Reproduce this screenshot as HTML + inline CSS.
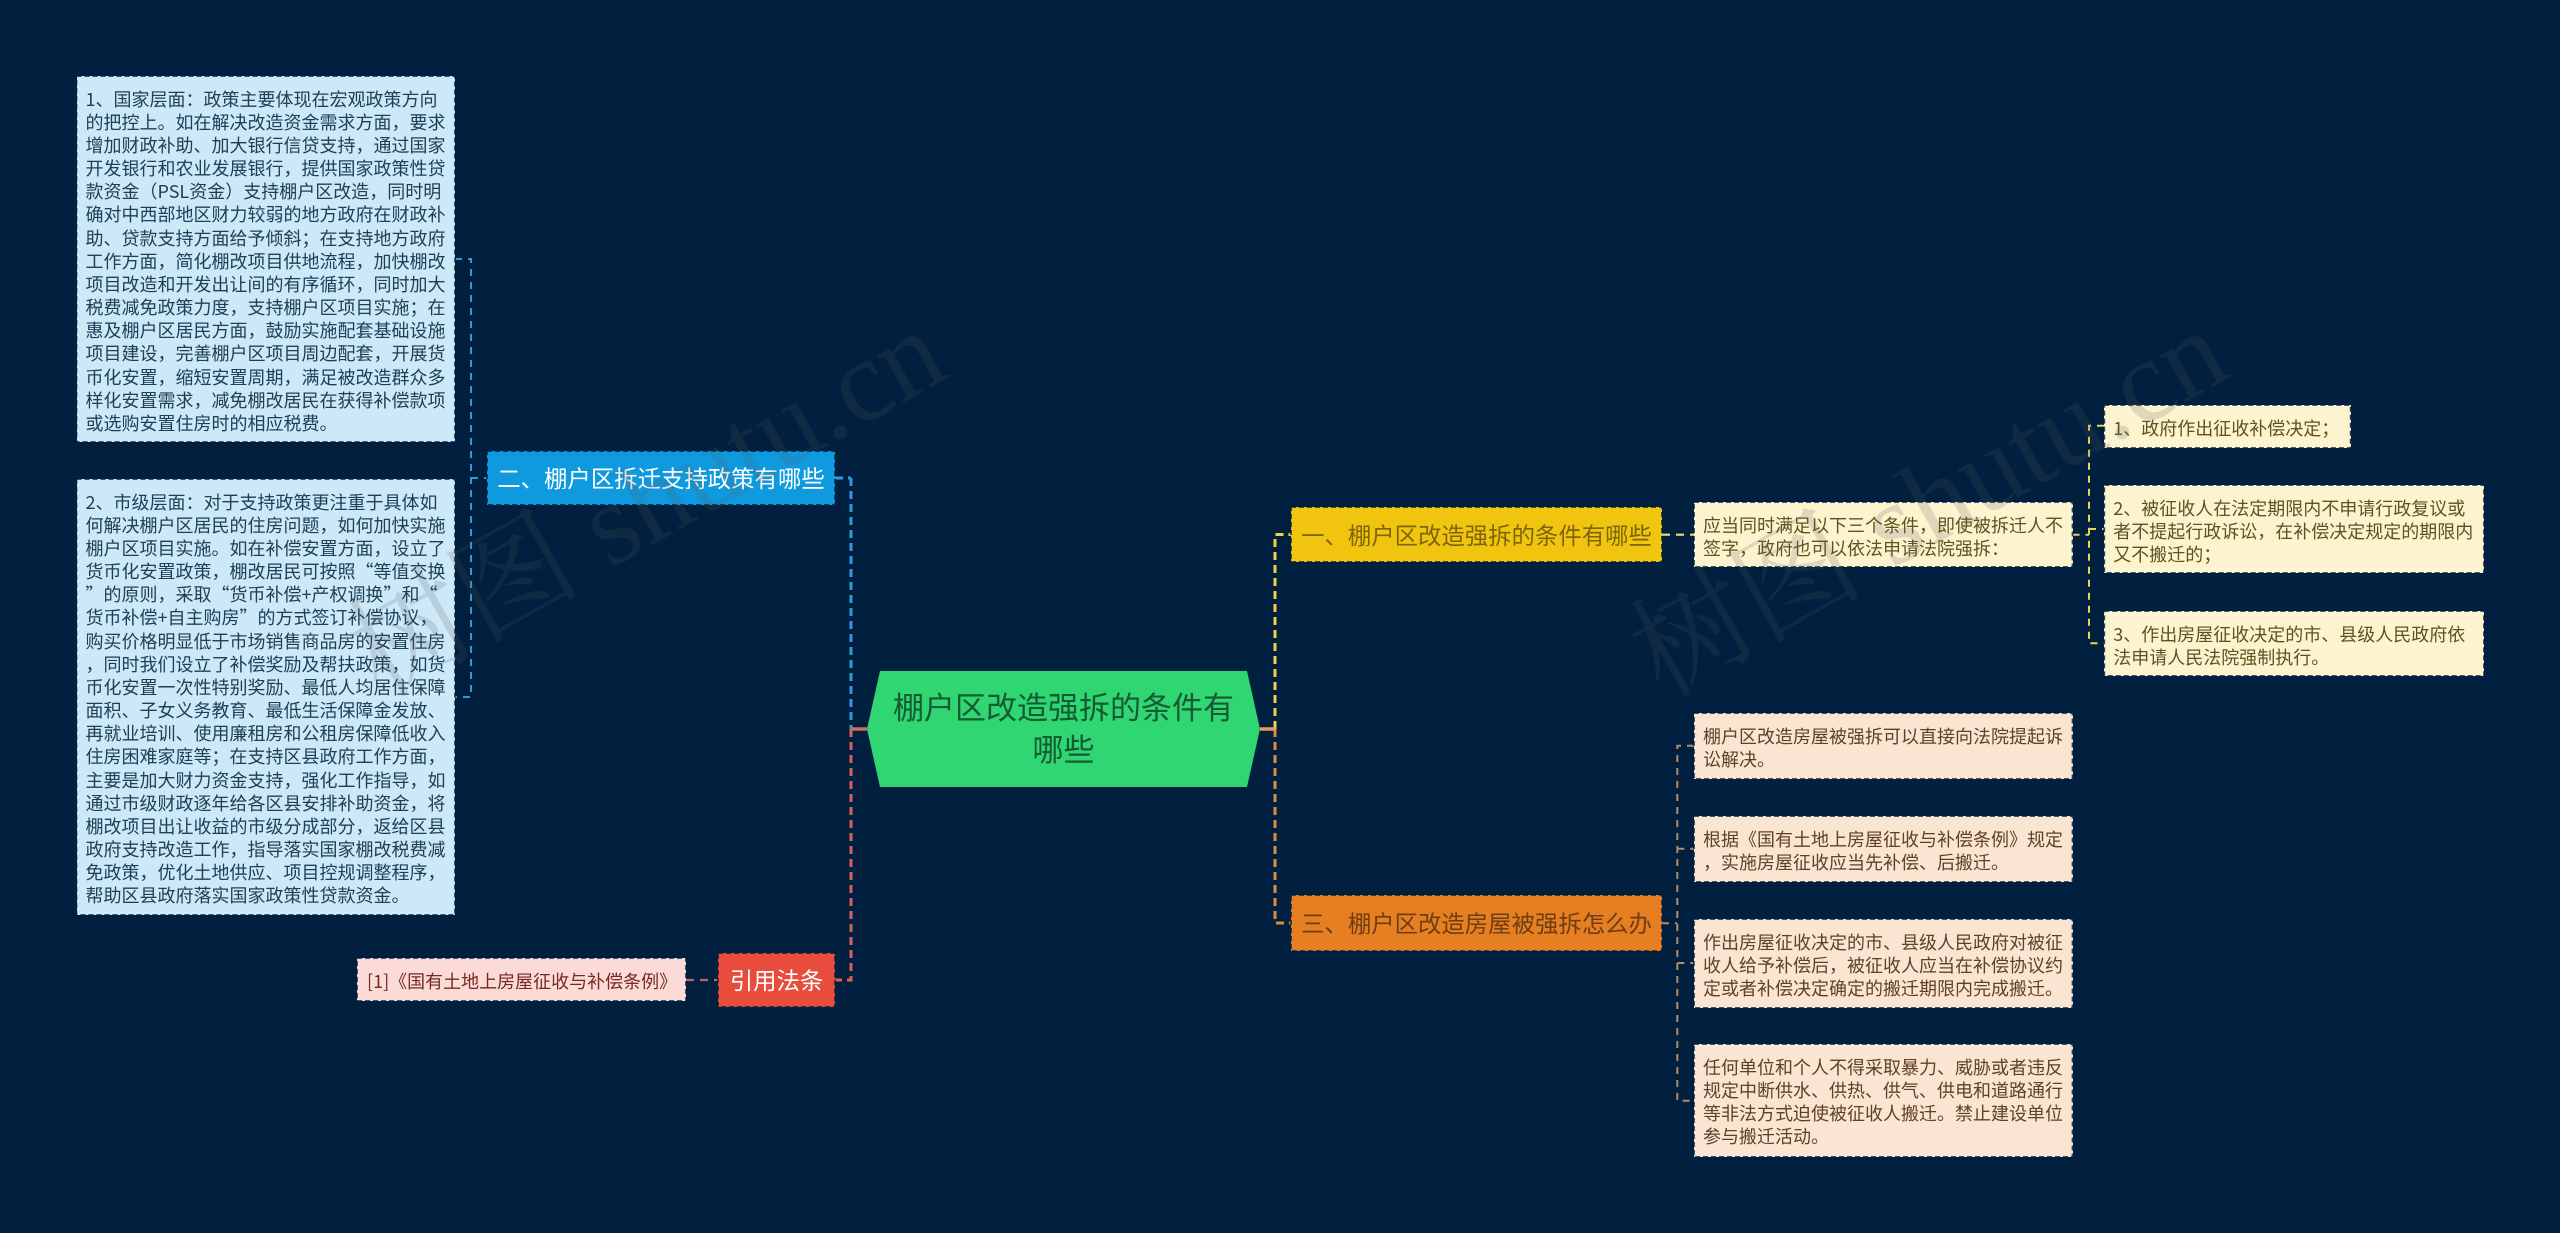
<!DOCTYPE html>
<html lang="zh-CN"><head><meta charset="utf-8"><title>棚户区改造强拆的条件有哪些</title>
<style>
html,body{margin:0;padding:0;background:#012040;}
#s{position:relative;width:2560px;height:1233px;overflow:hidden;background:#012040;font-family:"Noto Sans CJK SC","Liberation Sans",sans-serif;text-spacing-trim:space-all;}
#s svg{position:absolute;left:0;top:0;}
.b{position:absolute;box-sizing:border-box;white-space:nowrap;font-size:18px;line-height:23.17px;}
.l{padding:11.5px 0 0 9px;}
.y{background:#fcf3cf;color:#5e5320;}
.o{background:#fae5d3;color:#5f4126;}
.c{background:#cde9f8;color:#1c4058;}
.r{background:#fadbd8;color:#78281f;}
.n{font-size:23.4px;display:flex;align-items:center;justify-content:center;}
.hex{position:absolute;left:867px;top:671px;width:393px;height:116px;background:#2fd672;clip-path:polygon(13px 0,380px 0,393px 58px,380px 116px,13px 116px,0 58px);color:#145a32;font-size:31px;line-height:41.7px;text-align:center;white-space:nowrap;padding-top:14px;box-sizing:border-box;}
</style></head><body><div id="s">
<svg width="2560" height="1233" fill="none">
<path d="M851 478V729" stroke="#2f9ad8" stroke-width="3" stroke-dasharray="8 5"/>
<path d="M835 478H851" stroke="#2f9ad8" stroke-width="3" stroke-dasharray="8 5"/>
<path d="M851 729V980H835" stroke="#d9605a" stroke-width="3" stroke-dasharray="8 5"/>
<path d="M1275 729V534.5H1291" stroke="#f1d04a" stroke-width="3" stroke-dasharray="8 5"/>
<path d="M1275 729V923H1291" stroke="#e08a3c" stroke-width="3" stroke-dasharray="8 5"/>
<path d="M851 729H867" stroke="#cf6a60" stroke-width="3.5"/>
<path d="M1260 729H1275" stroke="#e59a62" stroke-width="3.5"/>
<path d="M455 259H471V697H455M471 478H487" stroke="#2f9ad8" stroke-width="2" stroke-dasharray="7 6"/>
<path d="M686 980H718" stroke="#c0655f" stroke-width="2.2" stroke-dasharray="8 6"/>
<path d="M1662 534.7H1694" stroke="#f0dd80" stroke-width="2.2" stroke-dasharray="8 6"/>
<path d="M2072.5 534.7H2089M2104 425.7H2089V643.3H2104M2089 529H2104" stroke="#ecd35a" stroke-width="2" stroke-dasharray="7 6"/>
<path d="M1662 923.3H1677.3M1694 745.7H1677.3V1100.7H1694M1677.3 848.7H1694M1677.3 963H1694" stroke="#b88a64" stroke-width="2" stroke-dasharray="7 6"/>
</svg>

<div class="hex">棚户区改造强拆的条件有<br>哪些</div>

<div class="b n" style="left:487px;top:451px;width:348px;height:54px;background:#0f9ae0;color:#fff;">二、棚户区拆迁支持政策有哪些</div>
<div class="b n" style="left:1291px;top:507px;width:371px;height:55px;background:#f1c40f;color:#7d6608;">一、棚户区改造强拆的条件有哪些</div>
<div class="b n" style="left:1291px;top:895px;width:371px;height:56px;background:#e67e22;color:#6e3d12;">三、棚户区改造房屋被强拆怎么办</div>
<div class="b n" style="left:718px;top:953px;width:117px;height:54px;background:#e74c3c;color:#fff;">引用法条</div>

<div class="b l c" style="left:76.5px;top:76px;width:378.5px;height:366px;">1、国家层面：政策主要体现在宏观政策方向<br>的把控上。如在解决改造资金需求方面，要求<br>增加财政补助、加大银行信贷支持，通过国家<br>开发银行和农业发展银行，提供国家政策性贷<br>款资金（PSL资金）支持棚户区改造，同时明<br>确对中西部地区财力较弱的地方政府在财政补<br>助、贷款支持方面给予倾斜；在支持地方政府<br>工作方面，简化棚改项目供地流程，加快棚改<br>项目改造和开发出让间的有序循环，同时加大<br>税费减免政策力度，支持棚户区项目实施；在<br>惠及棚户区居民方面，鼓励实施配套基础设施<br>项目建设，完善棚户区项目周边配套，开展货<br>币化安置，缩短安置周期，满足被改造群众多<br>样化安置需求，减免棚改居民在获得补偿款项<br>或选购安置住房时的相应税费。</div>

<div class="b l c" style="left:76.5px;top:479px;width:378.5px;height:436px;">2、市级层面：对于支持政策更注重于具体如<br>何解决棚户区居民的住房问题，如何加快实施<br>棚户区项目实施。如在补偿安置方面，设立了<br>货币化安置政策，棚改居民可按照“等值交换<br>”的原则，采取“货币补偿+产权调换”和“<br>货币补偿+自主购房”的方式签订补偿协议，<br>购买价格明显低于市场销售商品房的安置住房<br>，同时我们设立了补偿奖励及帮扶政策，如货<br>币化安置一次性特别奖励、最低人均居住保障<br>面积、子女义务教育、最低生活保障金发放、<br>再就业培训、使用廉租房和公租房保障低收入<br>住房困难家庭等；在支持区县政府工作方面，<br>主要是加大财力资金支持，强化工作指导，如<br>通过市级财政逐年给各区县安排补助资金，将<br>棚改项目出让收益的市级分成部分，返给区县<br>政府支持改造工作，指导落实国家棚改税费减<br>免政策，优化土地供应、项目控规调整程序，<br>帮助区县政府落实国家政策性贷款资金。</div>

<div class="b l r" style="left:357px;top:958px;width:329px;height:43px;padding-left:10px;">[1]《国有土地上房屋征收与补偿条例》</div>

<div class="b l y" style="left:1694px;top:502px;width:378.5px;height:65px;">应当同时满足以下三个条件，即使被拆迁人不<br>签字，政府也可以依法申请法院强拆：</div>
<div class="b l y" style="left:2104.3px;top:405px;width:246.3px;height:43px;">1、政府作出征收补偿决定；</div>
<div class="b l y" style="left:2104.3px;top:485px;width:379.7px;height:88px;">2、被征收人在法定期限内不申请行政复议或<br>者不提起行政诉讼，在补偿决定规定的期限内<br>又不搬迁的；</div>
<div class="b l y" style="left:2104.3px;top:611px;width:379.7px;height:65px;">3、作出房屋征收决定的市、县级人民政府依<br>法申请人民法院强制执行。</div>

<div class="b l o" style="left:1694px;top:713px;width:378.5px;height:66px;">棚户区改造房屋被强拆可以直接向法院提起诉<br>讼解决。</div>
<div class="b l o" style="left:1694px;top:816px;width:378.5px;height:66px;">根据《国有土地上房屋征收与补偿条例》规定<br>，实施房屋征收应当先补偿、后搬迁。</div>
<div class="b l o" style="left:1694px;top:919px;width:378.5px;height:89px;">作出房屋征收决定的市、县级人民政府对被征<br>收人给予补偿后，被征收人应当在补偿协议约<br>定或者补偿决定确定的搬迁期限内完成搬迁。</div>
<div class="b l o" style="left:1694px;top:1044px;width:378.5px;height:113px;">任何单位和个人不得采取暴力、威胁或者违反<br>规定中断供水、供热、供气、供电和道路通行<br>等非法方式迫使被征收人搬迁。禁止建设单位<br>参与搬迁活动。</div>

<svg width="2560" height="1233" fill="none" stroke="#012040" stroke-opacity=".85" stroke-width="1.7" stroke-dasharray="5 3">
<rect x="487" y="451" width="348" height="54"/>
<rect x="1291" y="507" width="371" height="55"/>
<rect x="1291" y="895" width="371" height="56"/>
<rect x="718" y="953" width="117" height="54"/>
<rect x="76.5" y="76" width="378.5" height="366"/>
<rect x="76.5" y="479" width="378.5" height="436"/>
<rect x="357" y="958" width="329" height="43"/>
<rect x="1694" y="502" width="378.5" height="65"/>
<rect x="2104.3" y="405" width="246.3" height="43"/>
<rect x="2104.3" y="485" width="379.7" height="88"/>
<rect x="2104.3" y="611" width="379.7" height="65"/>
<rect x="1694" y="713" width="378.5" height="66"/>
<rect x="1694" y="816" width="378.5" height="66"/>
<rect x="1694" y="919" width="378.5" height="89"/>
<rect x="1694" y="1044" width="378.5" height="113"/>
</svg>

<svg width="2560" height="1233" style="pointer-events:none">
<g fill="#5a5a5a" fill-opacity=".18" font-family="'Liberation Serif','Noto Serif CJK SC',serif" font-size="117" text-anchor="middle">
<text transform="translate(666 537) rotate(-29.5)">树图 shutu.cn</text>
<text transform="translate(1948 537) rotate(-29.5)">树图 shutu.cn</text>
</g></svg>
</div></body></html>
